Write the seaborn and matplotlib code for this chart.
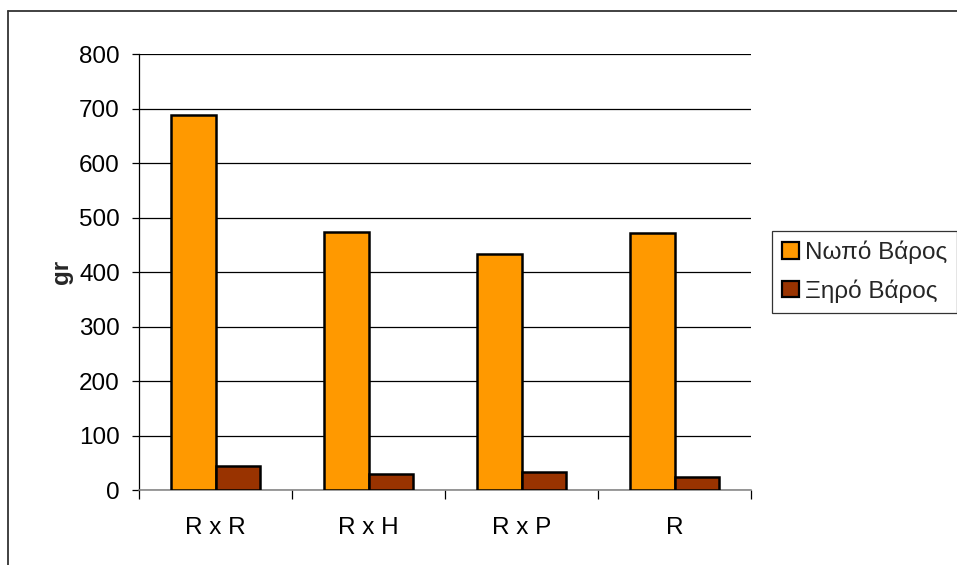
import matplotlib
matplotlib.use("Agg")
import matplotlib.pyplot as plt
from matplotlib.lines import Line2D
import seaborn as sns
import pandas as pd

# Data: fresh and dry weight per cross (grams)
categories = ["R x R", "R x H", "R x P", "R"]
fresh_weight = [689, 474, 434, 471]
dry_weight = [45, 29, 34, 24]
series_names = ["Νωπό Βάρος", "Ξηρό Βάρος"]
colors = ["#FF9900", "#993300"]
y_ticks = [0, 100, 200, 300, 400, 500, 600, 700, 800]

df = pd.DataFrame({
    "cross": categories * 2,
    "series": [series_names[0]] * len(categories) + [series_names[1]] * len(categories),
    "value": fresh_weight + dry_weight,
})

sns.set_theme(style="white")
plt.rcParams["font.family"] = ["Liberation Sans", "DejaVu Sans"]

W, H = 957, 565
fig = plt.figure(figsize=(W / 100, H / 100), dpi=100)
left, right, top, bottom = 139.3, 751, 54, 490.3
ax = fig.add_axes([left / W, 1 - bottom / H, (right - left) / W, (bottom - top) / H])

sns.barplot(data=df, x="cross", y="value", hue="series", order=categories,
            hue_order=series_names, palette=colors, width=0.58,
            edgecolor="black", linewidth=1.8, saturation=1, ax=ax, zorder=3)

ax.set_ylim(0, 800)
ax.set_xlim(-0.5, len(categories) - 0.5)
ax.set_yticks(y_ticks)
ax.yaxis.grid(True, color="black", linewidth=0.9, zorder=0)
ax.set_axisbelow(True)
for side in ("top", "right"):
    ax.spines[side].set_visible(False)
ax.spines["left"].set_color("black")
ax.spines["left"].set_linewidth(0.9)
ax.spines["bottom"].set_color("#808080")
ax.spines["bottom"].set_linewidth(1.1)

ax.tick_params(axis="y", which="major", direction="out", length=5, width=0.9,
               color="black", left=True, labelsize=17.5, pad=9, labelcolor="black")
ax.tick_params(axis="x", which="major", length=0, labelsize=17.5, pad=19, labelcolor="black")
ax.set_xticks([i - 0.5 for i in range(len(categories) + 1)], minor=True)
ax.tick_params(axis="x", which="minor", direction="out", length=6.5, width=0.9,
               color="black", bottom=True)
ax.set_xlabel("")
ax.set_ylabel("")
fig.text(62 / W, 1 - 272 / H, "gr", rotation=90, fontsize=17.5, fontweight="bold",
         ha="center", va="center")

leg = ax.legend(loc="upper left", bbox_to_anchor=(772 / W, 1 - 231 / H),
                bbox_transform=fig.transFigure, borderaxespad=0, fancybox=False,
                frameon=True, edgecolor="black", fontsize=17.5, handlelength=0.7,
                handleheight=0.66, handletextpad=0.25, labelspacing=0.62,
                borderpad=0.4, title=None)
leg.get_frame().set_linewidth(0.9)
for h in leg.legend_handles:
    h.set_edgecolor("black")
    h.set_linewidth(1.6)

# Outer chart frame
fig.add_artist(Line2D([8 / W, 1], [1 - 11 / H, 1 - 11 / H], color="#333333", linewidth=1.3))
fig.add_artist(Line2D([8 / W, 8 / W], [0, 1 - 11 / H], color="#333333", linewidth=1.3))

fig.savefig("out.png", dpi=100, facecolor="white")
